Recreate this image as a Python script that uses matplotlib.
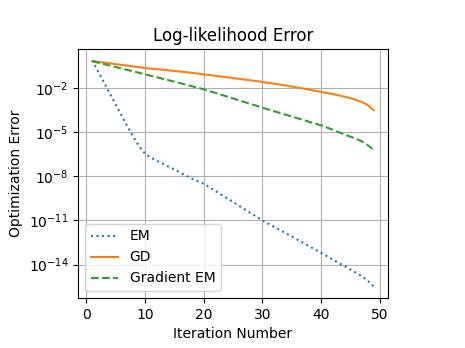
import numpy as np
import matplotlib
matplotlib.use("Agg")
import matplotlib.pyplot as plt

# iterations and log10 of the error
iterations = list(range(1, 50))

em_log10 = [-0.10, -0.85, -1.60, -2.35, -3.10, -3.85, -4.60, -5.30, -5.95, -6.45,
            -6.72, -6.93, -7.13, -7.33, -7.53, -7.74, -7.95, -8.15, -8.33, -8.50,
            -8.74, -8.99, -9.24, -9.49, -9.74, -9.99, -10.24, -10.49, -10.74, -10.99,
            -11.21, -11.43, -11.65, -11.87, -12.09, -12.31, -12.53, -12.75, -12.97, -13.20,
            -13.43, -13.66, -13.89, -14.11, -14.33, -14.56, -14.80, -15.10, -15.50]

gd_log10 = [-0.15, -0.20, -0.25, -0.30, -0.36, -0.41, -0.46, -0.51, -0.57, -0.62,
            -0.66, -0.70, -0.74, -0.78, -0.82, -0.86, -0.90, -0.95, -1.00, -1.05,
            -1.10, -1.15, -1.20, -1.25, -1.30, -1.35, -1.41, -1.46, -1.51, -1.57,
            -1.63, -1.69, -1.75, -1.81, -1.88, -1.95, -2.02, -2.09, -2.17, -2.25,
            -2.32, -2.40, -2.48, -2.57, -2.67, -2.79, -2.94, -3.15, -3.50]

gem_log10 = [-0.15, -0.25, -0.35, -0.45, -0.55, -0.65, -0.75, -0.85, -0.95, -1.05,
             -1.15, -1.25, -1.35, -1.45, -1.55, -1.65, -1.76, -1.86, -1.96, -2.07,
             -2.19, -2.31, -2.44, -2.56, -2.69, -2.82, -2.94, -3.07, -3.19, -3.32,
             -3.44, -3.56, -3.68, -3.80, -3.92, -4.04, -4.16, -4.28, -4.40, -4.52,
             -4.67, -4.82, -4.98, -5.14, -5.29, -5.44, -5.62, -5.88, -6.20]

em_err = 10.0 ** np.array(em_log10)
gd_err = 10.0 ** np.array(gd_log10)
gem_err = 10.0 ** np.array(gem_log10)

fig = plt.figure(figsize=(4.65, 3.48), dpi=100)
ax = fig.add_axes([0.168, 0.144, 0.666, 0.715])

ax.plot(iterations, em_err, ':', label='EM')
ax.plot(iterations, gd_err, '-', label='GD')
ax.plot(iterations, gem_err, '--', label='Gradient EM')

ax.set_yscale('log')
ax.yaxis.set_minor_locator(matplotlib.ticker.NullLocator())
ax.grid(True)
ax.set_xlabel('Iteration Number')
ax.set_ylabel('Optimization Error')
ax.set_title('Log-likelihood Error')
ax.legend(loc='lower left')

fig.savefig('out.png', dpi=100)
